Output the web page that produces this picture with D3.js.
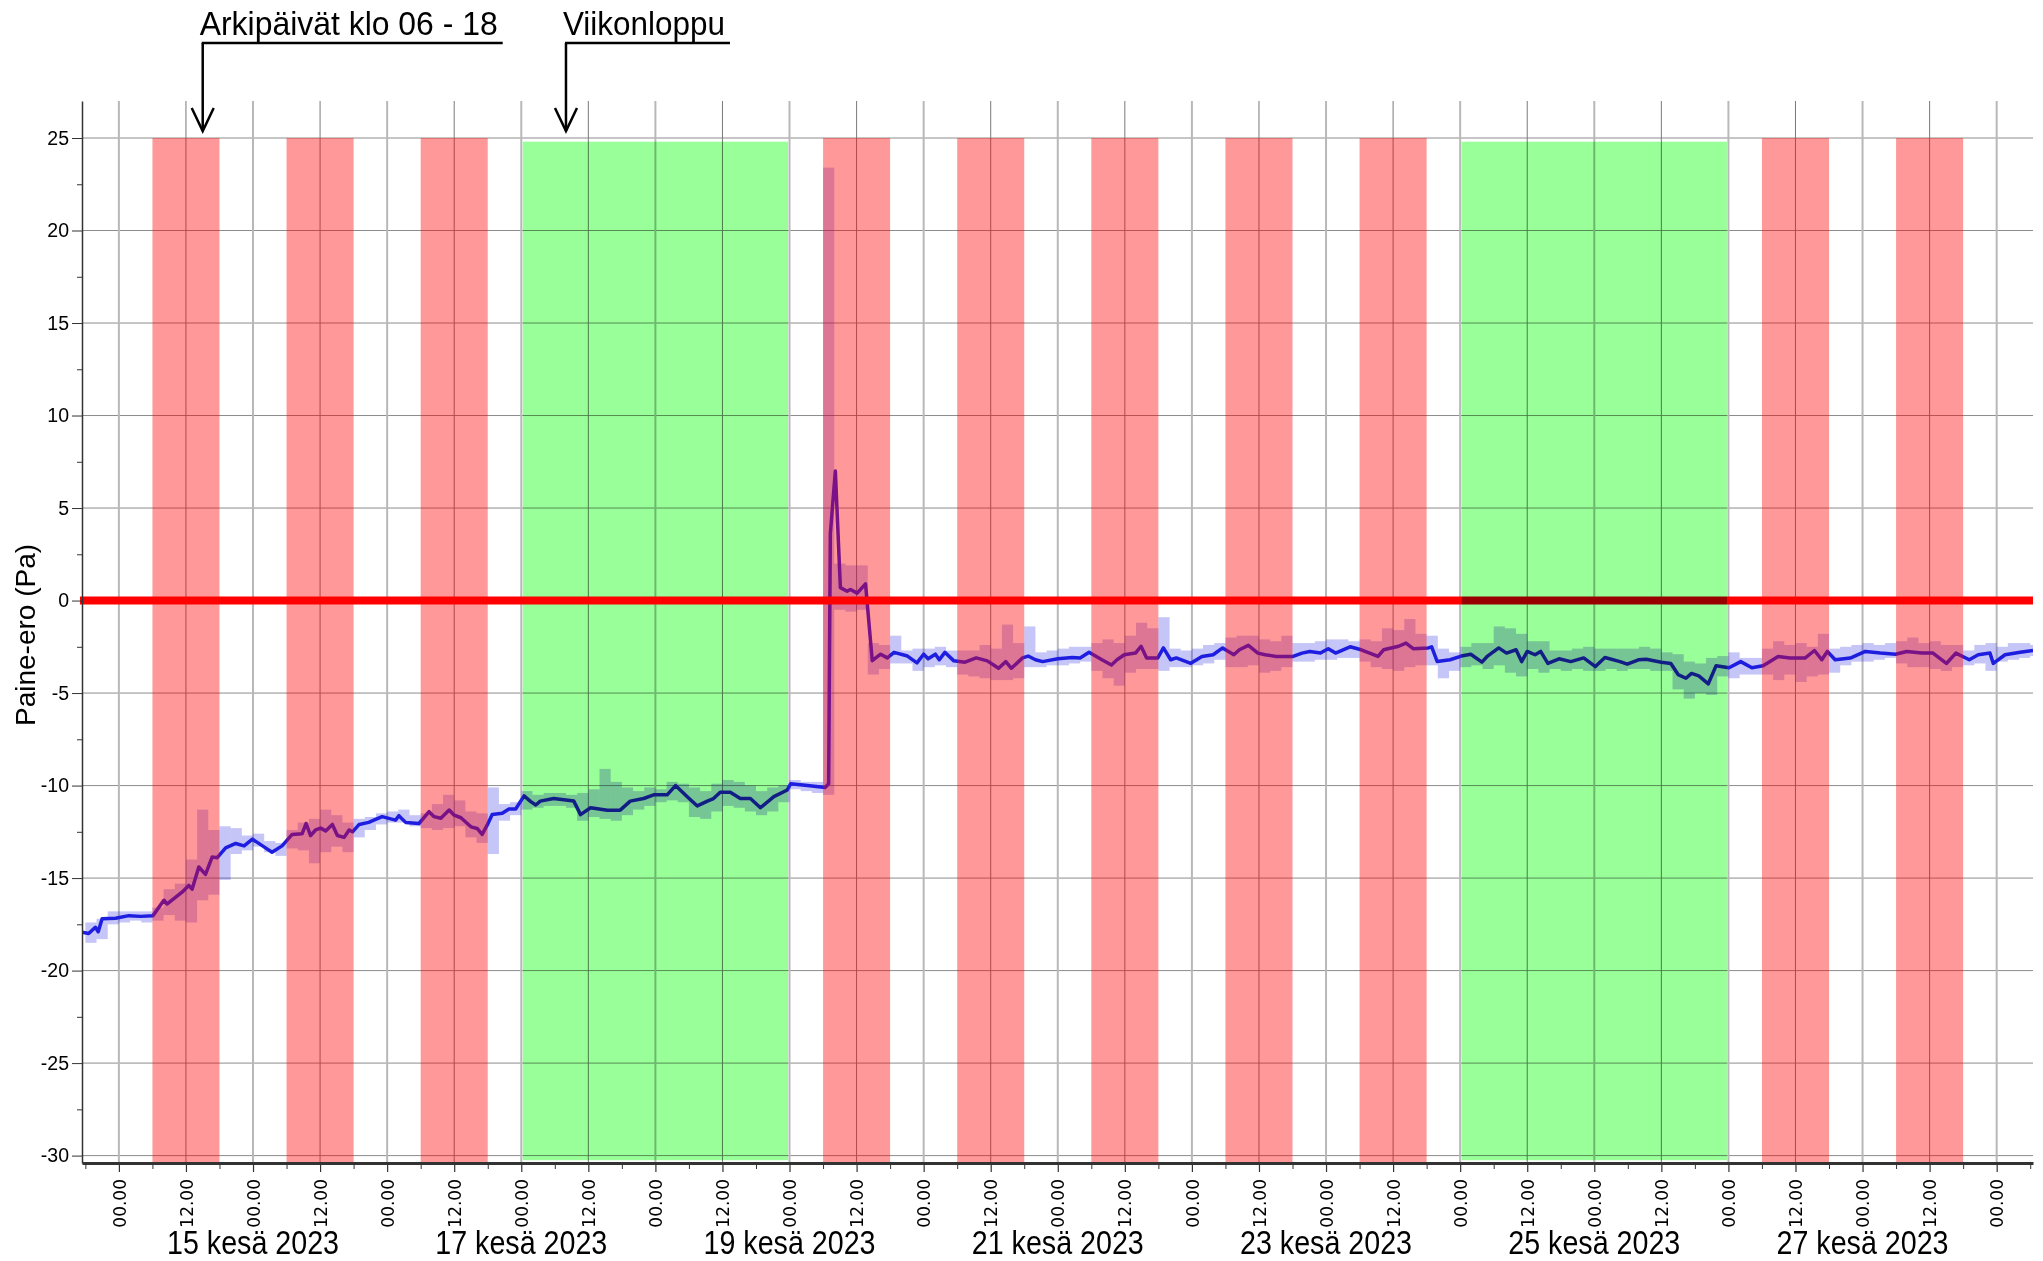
<!DOCTYPE html>
<html>
<head>
<meta charset="utf-8">
<title>Paine-ero</title>
<script src="https://cdn.jsdelivr.net/npm/d3@7"></script>
<style>
  body { margin: 0; background: #fff; }
  svg text { font-family: "Liberation Sans", Arial, sans-serif; fill: #000; }
  .narrow { font-family: "Liberation Sans Narrow", "Arial Narrow", "Liberation Sans", sans-serif; }
</style>
</head>
<body>
<svg id="chart" width="2043" height="1261"></svg>
<script>
// --- data ---------------------------------------------------------------
// hours are counted from 14.6.2023 00.00
const alku = new Date(2023, 5, 14, 0, 0);
const aikaAlku = -6.6, aikaLoppu = 342.5;

// working days (day of June), marked 06-18
const arkiPaivat = [14, 15, 16, 19, 20, 21, 22, 23, 26, 27];
const arkiKlo = [6, 18];
// weekends [first day, day after]
const viikonloput = [[17, 19], [24, 26]];

const yTicks = [25, 20, 15, 10, 5, 0, -5, -10, -15, -20, -25, -30];
const yMinor = [22.5, 17.5, 12.5, 7.5, 2.5, -2.5, -7.5, -12.5, -17.5, -22.5, -27.5];
const paivaLabels = [15, 17, 19, 21, 23, 25, 27];
const kuukausi = "kesä";

const annotaatiot = [
  { teksti: "Arkipäivät klo 06 - 18", tunti: 15 },
  { teksti: "Viikonloppu", tunti: 80 }
];

// smoothed pressure difference, [hour, Pa]
const paineKeski = [
  [-6.6,-17.93],[-5.4,-18.0],[-4.2,-17.66],[-3.7,-17.9],[-3.0,-17.2],[-0.6,-17.17],[1.8,-17.03],[3.9,-17.07],
  [6.1,-17.03],[8.05,-16.2],[8.65,-16.4],[11.3,-15.76],[12.5,-15.4],[13.1,-15.6],[14.3,-14.4],[15.5,-14.8],
  [16.7,-13.86],[17.6,-13.9],[19.1,-13.37],[20.9,-13.13],[22.4,-13.26],[23.9,-12.9],[25.7,-13.26],[27.4,-13.6],
  [29.2,-13.26],[31.0,-12.64],[32.8,-12.6],[33.5,-12.05],[34.3,-12.7],[35.2,-12.4],[36.1,-12.3],[37.0,-12.45],
  [38.2,-12.1],[39.1,-12.7],[40.3,-12.8],[41.2,-12.4],[41.8,-12.5],[43.0,-12.1],[44.7,-11.99],[47.1,-11.68],
  [49.5,-11.87],[50.1,-11.63],[51.3,-11.99],[53.7,-12.05],[55.5,-11.41],[56.4,-11.68],[57.6,-11.77],[59.1,-11.32],
  [60.0,-11.6],[61.2,-11.74],[63.0,-12.23],[64.1,-12.32],[65.0,-12.64],[65.9,-12.14],[66.8,-11.56],[68.6,-11.5],
  [69.8,-11.27],[71.0,-11.27],[72.5,-10.56],[73.7,-10.87],[74.6,-11.05],
  [75.4,-10.84],[77.8,-10.7],[81.4,-10.84],[82.6,-11.57],[84.4,-11.2],[87.4,-11.33],[89.7,-11.33],[91.5,-10.84],
  [93.9,-10.7],[95.7,-10.5],[98.1,-10.5],[99.6,-10.0],[101.7,-10.6],[103.5,-11.1],[105.3,-10.84],[106.4,-10.7],
  [107.6,-10.36],[109.4,-10.36],[111.2,-10.7],[113.0,-10.7],[114.8,-11.2],[117.2,-10.6],[119.6,-10.24],[120.2,-9.9],
  [123.2,-10.0],[126.4,-10.1],[127.0,-9.9],[127.3,3.6],[128.2,7.0],[129.1,0.7],[130.3,0.5],[130.9,0.6],
  [132.1,0.4],[133.6,0.9],[134.8,-3.25],[136.3,-2.9],[137.5,-3.1],[138.7,-2.8],[141.1,-3.0],[142.8,-3.37],
  [144.0,-2.9],[144.8,-3.15],[146.1,-2.9],[146.8,-3.2],[147.8,-2.8],[149.4,-3.26],[151.4,-3.33],[153.4,-3.1],
  [155.4,-3.26],[157.4,-3.66],[158.7,-3.3],[159.7,-3.66],[161.7,-3.1],[162.7,-3.0],[164.0,-3.2],[165.3,-3.3],
  [168.0,-3.15],[170.6,-3.08],[172.0,-3.1],[173.6,-2.8],[175.9,-3.2],[177.6,-3.48],[178.6,-3.2],[179.9,-2.93],
  [181.9,-2.84],[182.9,-2.47],[183.9,-3.1],[185.9,-3.1],[186.9,-2.56],[188.2,-3.2],[189.2,-3.1],[191.8,-3.39],
  [193.8,-3.02],[195.8,-2.93],[197.5,-2.56],[199.5,-2.93],[200.5,-2.66],[202.1,-2.42],[203.8,-2.84],[205.1,-2.93],
  [207.1,-3.02],[208.7,-3.02],[210.1,-3.02],[211.7,-2.84],[213.1,-2.75],[215.0,-2.84],[216.4,-2.6],[217.7,-2.84],
  [220.3,-2.5],[222.3,-2.66],[225.3,-3.02],[226.3,-2.66],[229.0,-2.47],[230.3,-2.3],[231.6,-2.6],[234.3,-2.56],
  [234.9,-2.5],[235.9,-3.3],[238.2,-3.2],
  [240.2,-3.0],[241.9,-2.9],[243.9,-3.33],[244.9,-3.0],[246.9,-2.56],[248.3,-2.84],[250.0,-2.66],[251.0,-3.3],
  [252.0,-2.75],[253.4,-2.93],[254.4,-2.75],[255.7,-3.4],[257.7,-3.15],[259.8,-3.3],[262.1,-3.1],[264.2,-3.57],
  [265.9,-3.08],[268.6,-3.3],[269.9,-3.44],[271.9,-3.2],[273.3,-3.17],[276.0,-3.33],[277.7,-3.4],[279.0,-4.0],
  [280.4,-4.2],[281.4,-3.94],[282.7,-4.07],[284.4,-4.5],[285.8,-3.52],[288.1,-3.63],[290.2,-3.3],[292.2,-3.63],
  [294.2,-3.52],[296.9,-3.02],[299.0,-3.11],[301.7,-3.11],[303.4,-2.7],[304.7,-3.2],[305.7,-2.75],[307.1,-3.2],
  [309.8,-3.11],[312.5,-2.75],[315.2,-2.84],[317.9,-2.9],[319.9,-2.75],[322.6,-2.84],[324.6,-2.84],[327.0,-3.4],
  [328.7,-2.84],[331.1,-3.2],[332.7,-2.93],[334.8,-2.84],[335.4,-3.4],[337.5,-2.93],[340.2,-2.8],[342.5,-2.7]
];

// min / max in 2 hour bins, first bin starts at hour -6
const rangeAlku = -6, rangeAskel = 2;
const rangeLo = [
  -18.5, -18.3, -17.5,
  -17.4, -17.3, -17.4, -17.3, -17.0, -17.3, -17.4, -16.2, -15.9, -15.1, -13.7, -13.5,
  -13.3, -13.6, -13.8, -13.4, -13.5, -14.2, -13.6, -13.3, -13.6, -12.8, -12.4, -12.1,
  -12.0, -12.0, -12.2, -12.3, -12.4, -12.3, -12.2, -12.8, -13.1, -13.7, -11.9, -11.6,
  -11.3, -11.2, -11.1, -11.1, -11.2, -11.9, -11.7, -11.8, -11.9, -11.6, -11.3, -11.1,
  -10.9, -10.8, -10.9, -11.7, -11.8, -11.4, -11.1, -11.2, -11.4, -11.6, -11.4, -10.9,
  -10.2, -10.3, -10.4, -10.5, -0.5, -0.6, -0.5, -4.0, -3.7, -3.4, -3.4, -3.8,
  -3.6, -3.5, -3.6, -4.0, -4.1, -4.2, -4.3, -4.3, -4.2, -3.6, -3.6, -3.5,
  -3.5, -3.4, -3.3, -3.8, -4.2, -4.6, -3.9, -3.7, -3.7, -3.8, -3.6, -3.6,
  -3.5, -3.4, -3.2, -3.6, -3.6, -3.5, -3.9, -3.8, -3.6, -3.3, -3.3, -3.2,
  -3.2, -3.1, -3.1, -3.3, -3.6, -3.7, -3.8, -3.6, -3.5, -3.5, -4.2, -3.8,
  -3.6, -3.5, -3.7, -3.5, -3.9, -4.1, -3.7, -3.9, -3.7, -3.8, -3.7, -3.8,
  -3.8, -3.7, -3.8, -3.7, -3.7, -3.8, -3.8, -4.8, -5.3, -5.0, -5.1, -4.1,
  -4.2, -4.0, -4.0, -4.0, -4.3, -4.0, -4.4, -4.1, -4.0, -3.9, -3.5, -3.3,
  -3.3, -3.2, -3.1, -3.4, -3.6, -3.6, -3.7, -3.8, -3.6, -3.5, -3.4, -3.8,
  -3.3, -3.2, -3.1, -3.0
];
const rangeHi = [
  -17.4, -17.2, -16.8,
  -16.8, -16.8, -16.8, -16.6, -15.6, -15.3, -14.0, -11.3, -12.4, -12.2, -12.3, -12.7,
  -12.6, -13.0, -13.1, -12.4, -12.0, -11.8, -11.3, -11.6, -12.0, -11.8, -11.7, -11.5,
  -11.4, -11.3, -11.6, -11.5, -11.0, -10.5, -10.8, -11.4, -11.5, -10.1, -11.0, -10.9,
  -10.3, -10.5, -10.4, -10.4, -10.5, -10.4, -10.2, -9.1, -9.8, -10.1, -10.3, -10.1,
  -10.2, -9.8, -9.9, -10.1, -10.3, -9.9, -9.7, -9.8, -10.0, -10.3, -10.1, -10.0,
  -9.7, -9.8, -9.8, 23.4, 2.0, 1.9, 1.9, -2.3, -2.4, -1.9, -2.7, -2.6,
  -2.6, -2.5, -2.7, -2.7, -2.7, -2.4, -2.6, -1.3, -2.3, -1.4, -2.8, -2.7,
  -2.6, -2.5, -2.5, -2.3, -2.1, -2.3, -1.9, -1.2, -1.5, -0.9, -2.6, -2.7,
  -2.6, -2.4, -2.3, -2.0, -1.9, -1.9, -2.1, -2.2, -1.9, -2.3, -2.3, -2.2,
  -2.1, -2.1, -2.2, -2.1, -2.2, -1.5, -1.6, -1.0, -1.8, -1.9, -2.6, -2.8,
  -2.5, -2.3, -2.3, -1.4, -1.5, -1.8, -2.2, -2.2, -2.7, -2.7, -2.6, -2.5,
  -2.6, -2.6, -2.6, -2.6, -2.5, -2.6, -2.8, -2.9, -3.3, -3.4, -3.1, -3.0,
  -2.8, -3.1, -3.1, -2.6, -2.2, -2.4, -2.3, -2.5, -1.8, -2.6, -2.5, -2.4,
  -2.3, -2.4, -2.3, -2.2, -2.0, -2.3, -2.2, -2.4, -2.4, -2.7, -2.4, -2.3,
  -2.5, -2.3, -2.3, -2.4
];

// --- chart --------------------------------------------------------------
const svg = d3.select("#chart");
const pLeft = 82, pRight = 2033, pTop = 101, pBottom = 1163;

const aika = h => new Date(+alku + h * 36e5);
const paivaTunti = d => (d - 14) * 24;

const x = d3.scaleTime().domain([aika(aikaAlku), aika(aikaLoppu)]).range([pLeft, pRight]);
const y = d3.scaleLinear().domain([-30.4, 27]).range([pBottom, pTop]);

svg.append("defs").append("clipPath").attr("id", "plot")
  .append("rect").attr("x", pLeft).attr("y", pTop).attr("width", pRight - pLeft).attr("height", pBottom - pTop);

// grid
const grid = svg.append("g");
grid.selectAll("line.h").data(yTicks).join("line")
  .attr("x1", pLeft).attr("x2", pRight)
  .attr("y1", d => y(d)).attr("y2", d => y(d))
  .attr("stroke", "#8c8c8c").attr("stroke-width", 1);
const puoliPaivat = d3.range(0, 337, 12);
grid.selectAll("line.v").data(puoliPaivat).join("line")
  .attr("x1", d => x(aika(d))).attr("x2", d => x(aika(d)))
  .attr("y1", pTop).attr("y2", pBottom)
  .attr("stroke", d => d % 24 === 0 ? "#b8b8b8" : "#7a7a7a")
  .attr("stroke-width", d => d % 24 === 0 ? 2 : 1);

// min/max bars
const plot = svg.append("g").attr("clip-path", "url(#plot)");
plot.selectAll("rect.range").data(rangeLo).join("rect")
  .attr("x", (d, i) => x(aika(rangeAlku + i * rangeAskel)))
  .attr("width", (d, i) => x(aika(rangeAlku + (i + 1) * rangeAskel)) - x(aika(rangeAlku + i * rangeAskel)))
  .attr("y", (d, i) => y(rangeHi[i]))
  .attr("height", (d, i) => y(d) - y(rangeHi[i]))
  .attr("fill", "rgba(40,40,225,0.27)");

// smoothed line
plot.append("path")
  .datum(paineKeski)
  .attr("fill", "none")
  .attr("stroke", "#1e1ee0")
  .attr("stroke-width", 3.5)
  .attr("stroke-linejoin", "round")
  .attr("d", d3.line().x(d => x(aika(d[0]))).y(d => y(d[1])));

// working day bands
svg.append("g").selectAll("rect").data(arkiPaivat).join("rect")
  .attr("x", d => x(aika(paivaTunti(d) + arkiKlo[0])))
  .attr("width", d => x(aika(paivaTunti(d) + arkiKlo[1])) - x(aika(paivaTunti(d) + arkiKlo[0])))
  .attr("y", y(25)).attr("height", pBottom - y(25))
  .attr("fill", "rgba(255,0,0,0.4)");

// weekend bands (multiply); the first one sits under the zero line
function viikonloppu(w) {
  svg.append("rect")
    .attr("x", x(aika(paivaTunti(w[0]))) + 1.5)
    .attr("width", x(aika(paivaTunti(w[1]))) - x(aika(paivaTunti(w[0]))) - 3)
    .attr("y", y(24.8)).attr("height", y(-30.25) - y(24.8))
    .attr("fill", "#99ff99")
    .style("mix-blend-mode", "multiply");
}
viikonloppu(viikonloput[0]);

svg.append("line")
  .attr("x1", pLeft - 2).attr("x2", pRight)
  .attr("y1", y(0)).attr("y2", y(0))
  .attr("stroke", "#ff0000").attr("stroke-width", 8);

viikonloppu(viikonloput[1]);

// y axis
const yAxis = svg.append("g").attr("transform", `translate(${pLeft},0)`)
  .call(d3.axisLeft(y).tickValues(yTicks).tickSize(10).tickSizeOuter(0).tickPadding(3).tickFormat(d => String(d)));
yAxis.select(".domain").attr("stroke", "#333").attr("stroke-width", 1.5);
yAxis.selectAll(".tick line").attr("stroke", "#333");
yAxis.selectAll("text").style("font-size", "19.5px");
svg.append("g").attr("transform", `translate(${pLeft},0)`)
  .call(d3.axisLeft(y).tickValues(yMinor).tickSize(5).tickFormat(""))
  .call(g => g.select(".domain").remove())
  .selectAll("line").attr("stroke", "#333");

svg.append("text")
  .attr("transform", `translate(35,${635}) rotate(-90)`)
  .attr("text-anchor", "middle")
  .style("font-size", "28px")
  .text("Paine-ero (Pa)");

// x axis
const xAxis = svg.append("g").attr("transform", `translate(0,${pBottom})`)
  .call(d3.axisBottom(x).tickValues(puoliPaivat.map(aika)).tickSize(9).tickSizeOuter(0)
    .tickFormat(d3.timeFormat("%H.%M")));
xAxis.select(".domain").attr("stroke", "#333").attr("stroke-width", 3);
xAxis.selectAll(".tick line").attr("stroke", "#333").attr("stroke-width", 1.2);
xAxis.selectAll("text")
  .attr("transform", "rotate(-90)")
  .attr("text-anchor", "end")
  .attr("x", -16).attr("y", 0).attr("dy", "0.36em")
  .style("font-family", "'DejaVu Sans', sans-serif")
  .style("font-size", "17px");
svg.append("g").attr("transform", `translate(0,${pBottom})`)
  .call(d3.axisBottom(x).tickValues(d3.range(-6, 343, 12).map(aika)).tickSize(6).tickFormat(""))
  .call(g => g.select(".domain").remove())
  .selectAll("line").attr("stroke", "#333");

svg.append("g").selectAll("text").data(paivaLabels).join("text")
  .attr("class", "narrow")
  .attr("x", d => x(aika(paivaTunti(d))))
  .attr("y", 1254)
  .attr("text-anchor", "middle")
  .attr("textLength", 172).attr("lengthAdjust", "spacingAndGlyphs")
  .style("font-size", "33px")
  .text(d => `${d} ${kuukausi} 2023`);

// annotations with arrows
annotaatiot.forEach((a, i) => {
  const ax = x(aika(a.tunti));
  const t = svg.append("text")
    .attr("class", "narrow")
    .attr("x", ax - 3).attr("y", 35)
    .attr("textLength", i === 0 ? 298 : 162).attr("lengthAdjust", "spacingAndGlyphs")
    .style("font-size", "34px")
    .text(a.teksti);
  const w = t.node().getComputedTextLength();
  const g = svg.append("g").attr("stroke", "#000").attr("stroke-width", 2.5).attr("fill", "none");
  g.append("line").attr("x1", ax - 1).attr("x2", ax - 3 + w + 5).attr("y1", 43).attr("y2", 43);
  g.append("line").attr("x1", ax).attr("x2", ax).attr("y1", 43).attr("y2", 131);
  g.append("polyline").attr("points", `${ax - 11},108 ${ax},131 ${ax + 11},108`);
});
</script>
</body>
</html>
